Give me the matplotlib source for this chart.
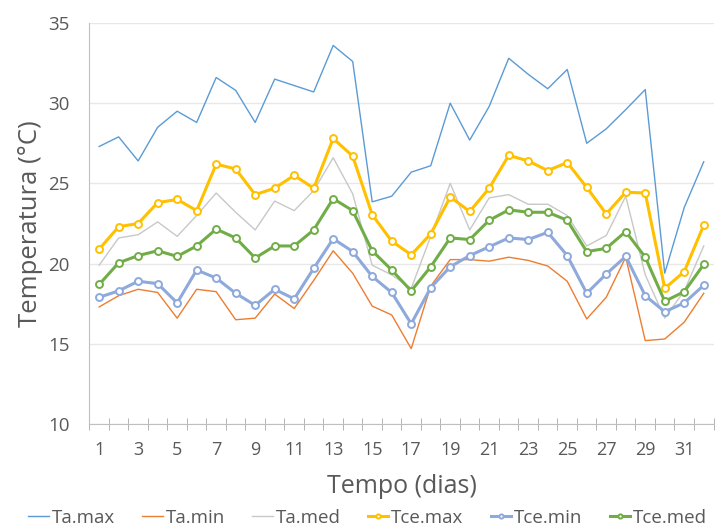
import matplotlib
matplotlib.use("Agg")
import matplotlib.pyplot as plt

dias = list(range(1, 33))

ta_max = [27.3, 27.9, 26.4, 28.5, 29.5, 28.8, 31.6, 30.8, 28.8, 31.5, 31.1, 30.7,
          33.6, 32.6, 23.85, 24.2, 25.7, 26.1, 30.0, 27.7, 29.8, 32.8, 31.8, 30.9,
          32.1, 27.5, 28.4, 29.6, 30.85, 19.4, 23.5, 26.35]
ta_min = [17.3, 18.0, 18.4, 18.2, 16.6, 18.4, 18.25, 16.5, 16.6, 18.1, 17.2, 18.95,
          20.8, 19.4, 17.35, 16.8, 14.7, 18.6, 20.25, 20.25, 20.15, 20.4, 20.2, 19.85,
          18.9, 16.55, 17.9, 20.4, 15.2, 15.3, 16.35, 18.15]
ta_med = [19.9, 21.6, 21.8, 22.6, 21.7, 23.0, 24.4, 23.2, 22.1, 23.9, 23.3, 24.55,
          26.6, 24.35, 19.9, 19.3, 18.45, 21.7, 25.0, 22.1, 24.1, 24.3, 23.7, 23.7,
          23.0, 21.1, 21.75, 24.2, 19.3, 16.6, 18.3, 21.1]
tce_max = [20.9, 22.3, 22.5, 23.8, 24.0, 23.3, 26.2, 25.9, 24.3, 24.7, 25.5, 24.7,
           27.8, 26.7, 23.05, 21.4, 20.55, 21.85, 24.15, 23.25, 24.7, 26.75, 26.4, 25.8,
           26.3, 24.75, 23.1, 24.45, 24.4, 18.45, 19.5, 22.4]
tce_min = [17.9, 18.3, 18.9, 18.75, 17.55, 19.6, 19.1, 18.15, 17.4, 18.4, 17.8, 19.7,
           21.55, 20.75, 19.2, 18.2, 16.25, 18.5, 19.8, 20.5, 21.05, 21.6, 21.5, 21.95,
           20.5, 18.15, 19.35, 20.45, 18.0, 17.0, 17.55, 18.65]
tce_med = [18.7, 20.05, 20.5, 20.8, 20.45, 21.1, 22.15, 21.6, 20.35, 21.1, 21.1, 22.1,
           24.05, 23.3, 20.8, 19.6, 18.3, 19.8, 21.6, 21.5, 22.7, 23.35, 23.2, 23.2,
           22.7, 20.75, 20.95, 22.0, 20.4, 17.65, 18.25, 19.95]

cinza = "#595959"
plt.rcParams["font.family"] = ["Open Sans", "DejaVu Sans"]

fig = plt.figure(figsize=(7.21, 5.27), dpi=100)
ax = fig.add_axes([0.124, 0.1954, 0.8656, 0.761])

ax.plot(dias, ta_max, color="#5B9BD5", lw=1.0, label="Ta.max")
ax.plot(dias, ta_min, color="#ED7D31", lw=1.0, label="Ta.min")
ax.plot(dias, ta_med, color="#C8C8C8", lw=1.0, label="Ta.med")
estilo = dict(lw=2.2, marker="o", markersize=5, markerfacecolor="white", markeredgewidth=1.4)
ax.plot(dias, tce_max, color="#FFC000", label="Tce.max", **estilo)
ax.plot(dias, tce_min, color="#8EA9DB", label="Tce.min", **estilo)
ax.plot(dias, tce_med, color="#70AD47", label="Tce.med", **estilo)

ax.set_xlim(0.5, 32.5)
ax.set_ylim(10, 35)
ax.set_yticks(range(10, 36, 5))
ax.set_xticks(range(1, 33, 2))
ax.set_xticks([d + 0.5 for d in range(0, 33)], minor=True)
ax.tick_params(axis="x", which="major", length=0, labelsize=13, colors=cinza, pad=12)
ax.tick_params(axis="x", which="minor", length=8, direction="inout", color="#A6A6A6")
ax.tick_params(axis="y", length=0, labelsize=13.5, colors=cinza, pad=14)
ax.grid(axis="y", color="#E8E8E8", lw=1.0)
ax.set_axisbelow(True)
for lado in ["top", "right"]:
    ax.spines[lado].set_visible(False)
for lado in ["left", "bottom"]:
    ax.spines[lado].set_color("#BFBFBF")

ax.set_ylabel("Temperatura (°C)", fontsize=18.5, color=cinza, labelpad=4)
ax.set_xlabel("Tempo (dias)", fontsize=18, color=cinza, labelpad=11)

fig.legend(loc="center", bbox_to_anchor=(0.51, 0.018), ncol=6, frameon=False,
           fontsize=13.5, handlelength=1.1, handletextpad=0.15, columnspacing=1.45,
           markerscale=0.6, labelcolor=cinza, borderaxespad=0)

fig.savefig("out.png", dpi=100)
